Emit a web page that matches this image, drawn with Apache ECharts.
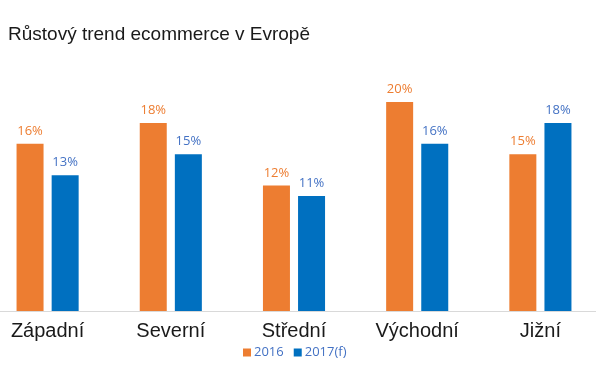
<!DOCTYPE html>
<html>
<head>
<meta charset="utf-8">
<script src="https://cdn.jsdelivr.net/npm/echarts@6/dist/echarts.min.js"></script>
<style>
  html, body { margin: 0; padding: 0; background: #fff; overflow: hidden; width: 596px; height: 376px; }
  #chartContainer { position: relative; left: -14px; width: 616px; height: 376px; }
</style>
</head>
<body>
<div id="chartContainer"></div>
<script>
var regions = ['Západní', 'Severní', 'Střední', 'Východní', 'Jižní'];
var values2016 = [16, 18, 12, 20, 15];
var values2017 = [13, 15, 11, 16, 18];
var seriesNames = ['2016', '2017(f)'];

function SetGrowthChart() {
    var container = document.getElementById('chartContainer');
    var myChart = echarts.init(container, null, {
        renderer: 'canvas',
        useDirtyRect: false
    });

    // container is shifted 14px left, so page x = container x - 14
    var option = {
        animation: false,
        title: {
            text: 'Růstový trend ecommerce v Evropě',
            left: 17,
            top: 20,
            textStyle: {
                color: '#1a1a1a',
                fontFamily: 'Liberation Sans',
                fontSize: 19,
                fontWeight: 'normal'
            }
        },
        legend: {
            data: seriesNames,
            bottom: 12,
            left: 252,
            icon: 'rect',
            itemWidth: 8,
            itemHeight: 8,
            itemGap: 10,
            textStyle: {
                color: '#4472C4',
                fontFamily: 'Open Sans',
                fontSize: 13,
                padding: [0, 0, 0, -2]
            }
        },
        grid: {
            left: 0,
            right: 0,
            top: 102,
            bottom: 65
        },
        xAxis: {
            type: 'category',
            data: regions,
            axisTick: { show: false },
            axisLine: { lineStyle: { color: '#d9d9d9' } },
            axisLabel: {
                color: '#1a1a1a',
                fontFamily: 'Liberation Sans',
                fontSize: 20,
                margin: 10
            }
        },
        yAxis: {
            type: 'value',
            min: 0,
            max: 20,
            show: false,
            splitLine: { show: false }
        },
        series: [
            {
                name: seriesNames[0],
                type: 'bar',
                data: values2016,
                barWidth: 27,
                barGap: '30%',
                itemStyle: { color: '#ED7D31' },
                label: {
                    show: true,
                    position: 'top',
                    distance: 6,
                    formatter: '{c}%',
                    color: '#ED7D31',
                    fontFamily: 'Open Sans',
                    fontSize: 13
                }
            },
            {
                name: seriesNames[1],
                type: 'bar',
                data: values2017,
                barWidth: 27,
                itemStyle: { color: '#0070C0' },
                label: {
                    show: true,
                    position: 'top',
                    distance: 6,
                    formatter: '{c}%',
                    color: '#4472C4',
                    fontFamily: 'Open Sans',
                    fontSize: 13
                }
            }
        ]
    };

    if (option && typeof option === 'object') {
        myChart.setOption(option);
    }

    window.addEventListener('resize', myChart.resize);
}

SetGrowthChart();
</script>
</body>
</html>
